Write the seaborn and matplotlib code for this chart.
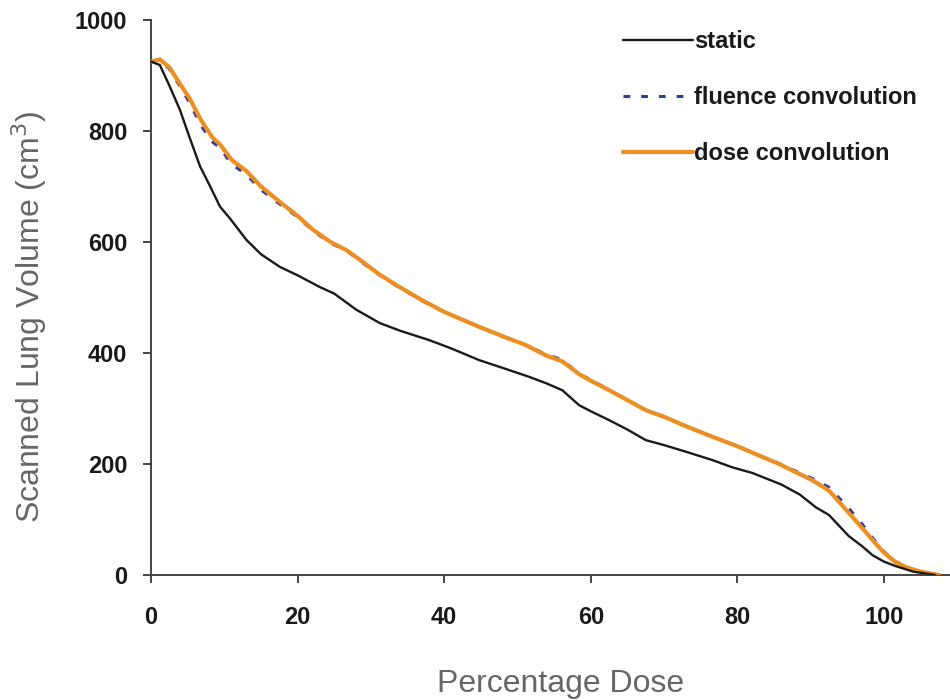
import matplotlib
matplotlib.use("Agg")
import matplotlib.pyplot as plt
import seaborn as sns
import pandas as pd

# percentage dose and volume readings (cm3)
dose_static = [0, 1.2, 2.5, 3.95, 5.3, 6.7, 8.0, 9.4, 10.8, 13.0, 15, 17.6, 20, 23, 25,
               28, 31.2, 34, 38, 41, 44.8, 48, 51.6, 54, 56.1, 58.4, 60, 62.5, 65, 67.5,
               70, 73, 76.6, 79.3, 82, 86, 88.5, 90.7, 92.5, 95.2, 97, 98.4, 100, 101.6,
               104, 107]
vol_static = [925, 919, 882, 838, 787, 736, 702, 664, 642, 604, 578, 555, 540, 519, 507,
              478, 454, 440, 423, 408, 387, 373, 357, 345, 333, 306, 295, 279, 262, 243,
              234, 222, 207, 194, 184, 163, 145, 122, 108, 70, 52, 36, 24, 16,
              6, 0]

dose_conv = [0, 1.2, 2.5, 3.8, 5.3, 6.8, 8.4, 9.4, 11, 13, 15, 17.6, 20, 22.1, 24.5,
             26.7, 28.5, 31, 33.5, 37, 40, 44.8, 48, 51, 54, 56.1, 58.4, 60, 62.5, 65,
             67.5, 70, 73, 76.6, 80, 83, 85.7, 88, 90.2, 92.5, 95.2, 97, 98.5, 100,
             101.5, 103, 105, 107.5]
vol_fluence = [925, 928, 912, 884, 850, 810, 780, 770, 740, 722, 694, 668, 645, 620, 598,
               584, 566, 542, 521, 494, 474, 447, 430, 415, 397, 388, 362, 352, 333, 315,
               297, 285, 268, 249, 232, 215, 201, 187, 174, 158, 120, 92, 66, 42,
               25, 14, 6, 0]
vol_dose = [925, 929, 915, 888, 858, 820, 788, 776, 748, 728, 700, 672, 647, 622, 600,
            585, 568, 543, 522, 495, 474, 447, 430, 415, 395, 385, 362, 350, 333, 315,
            297, 285, 268, 249, 232, 215, 200, 185, 171, 152, 112, 85, 62, 40,
            24, 14, 6, 0]

sns.set_style("ticks")
plt.rcParams["font.family"] = ["Liberation Sans", "DejaVu Sans"]

df_static = pd.DataFrame({"dose": dose_static, "vol": vol_static})
df_conv = pd.DataFrame({"dose": dose_conv, "fluence": vol_fluence, "dosec": vol_dose})

fig = plt.figure(figsize=(9.5, 7), dpi=100)
ax = fig.add_axes([151 / 950, 125 / 700, 799 / 950, 555 / 700])

sns.lineplot(data=df_static, x="dose", y="vol", ax=ax, color="#1a1a1a", lw=1.7,
             label="static", zorder=4)
sns.lineplot(data=df_conv, x="dose", y="fluence", ax=ax, color="#2e3f9e", lw=2.2,
             dashes=(2.2, 3.6), label="fluence convolution", zorder=2)
sns.lineplot(data=df_conv, x="dose", y="dosec", ax=ax, color="#ec8f22", lw=3.0,
             label="dose convolution", zorder=3)

ax.set_xlim(0, 109)
ax.set_ylim(0, 1000)
ax.set_xticks([0, 20, 40, 60, 80, 100])
ax.set_yticks([0, 200, 400, 600, 800, 1000])
sns.despine(ax=ax)
for s in ["left", "bottom"]:
    ax.spines[s].set_color("#444444")
    ax.spines[s].set_linewidth(1.4)
ax.tick_params(axis="both", colors="#444444", width=1.4, length=6)
ax.tick_params(axis="y", pad=11)
ax.tick_params(axis="x", pad=16)
for lab in ax.get_xticklabels() + ax.get_yticklabels():
    lab.set_fontsize(17)
    lab.set_fontweight("bold")
    lab.set_color("#1a1a1a")

ax.set_xlabel("Percentage Dose", fontsize=23, color="#666666")
ax.xaxis.set_label_coords(0.512, -0.17)
ax.set_ylabel("Scanned Lung Volume (cm$^3$)", fontsize=23, color="#666666")
ax.yaxis.set_label_coords(-0.128, 0.465)

leg = ax.legend(loc="upper left", bbox_to_anchor=(623 / 950, 1 - 30 / 700),
                bbox_transform=fig.transFigure, frameon=False, borderpad=0,
                borderaxespad=0, handlelength=2.95, handletextpad=0.05,
                labelspacing=1.4, prop={"weight": "bold", "size": 17})
for t in leg.get_texts():
    t.set_color("#1a1a1a")

fig.savefig("out.png", dpi=100)
